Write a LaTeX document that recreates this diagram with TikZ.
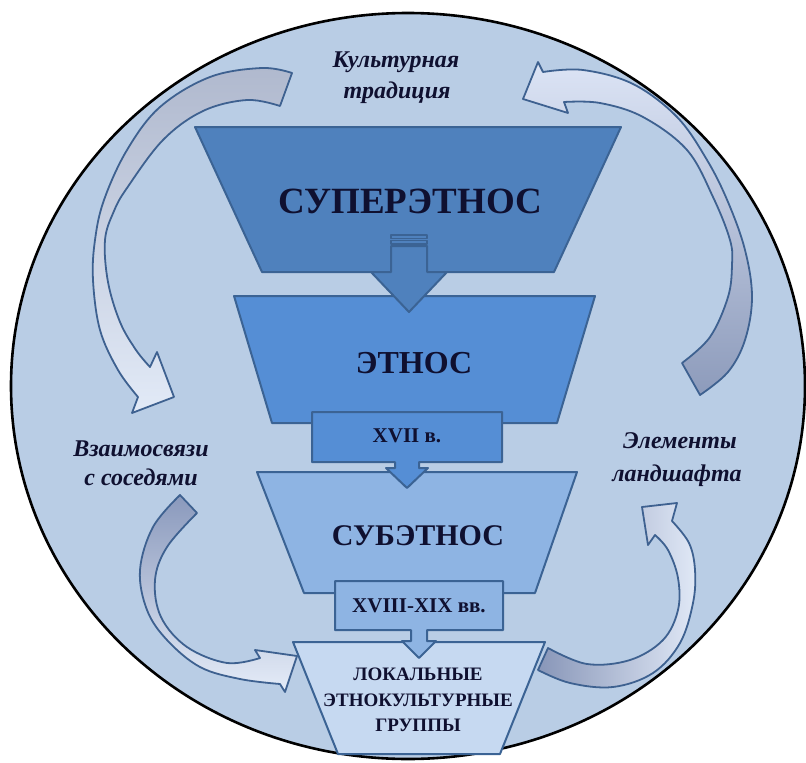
\documentclass[tikz,border=0pt]{standalone}
\usepackage{fontspec}
\setmainfont{Liberation Serif}
\definecolor{bgfill}{HTML}{B9CDE5}
\definecolor{shapeln}{HTML}{3B6394}
\definecolor{curvln}{HTML}{3E6190}
\definecolor{fillA}{HTML}{4F81BD}
\definecolor{fillB}{HTML}{558ED5}
\definecolor{fillC}{HTML}{8EB4E3}
\definecolor{fillD}{HTML}{C6D9F1}
\definecolor{txt}{HTML}{0F1030}
\definecolor{tlTail}{HTML}{B0B9CE}
\definecolor{tlHead}{HTML}{E2EAF7}
\definecolor{trTail}{HTML}{8D9BBB}
\definecolor{trHead}{HTML}{DCE4F5}
\definecolor{blTail}{HTML}{8A99BC}
\definecolor{blHead}{HTML}{E5ECF8}
\definecolor{brTail}{HTML}{8896B8}
\definecolor{brHead}{HTML}{E0E8F6}
\begin{document}
\begin{tikzpicture}[x=1pt,y=-1pt,
  shapebox/.style={draw=shapeln, line width=2pt, line join=round},
  curvarrow/.style={draw=curvln, line width=1.8pt, line join=round},
  captxt/.style={text=txt, inner sep=0pt, anchor=base},
  lbltxt/.style={text=txt, inner sep=0pt, anchor=base, font=\fontsize{24}{28}\selectfont\bfseries\itshape}]
\useasboundingbox (0,0) rectangle (806,763);
% background ellipse
\draw[fill=bgfill, draw=black, line width=2.6pt] (408,386) ellipse [x radius=397, y radius=373];

% curved arrows
\path[curvarrow, top color=tlTail, bottom color=tlHead]
  plot[smooth, tension=0.6] coordinates {(292,73) (262,68) (210,77) (160,107) (127,150) (104,200) (95,240) (93,280) (100,330) (118,370) (138,397)}
  -- (132,413) -- (174,397) -- (157,352) -- (150,367)
  -- plot[smooth, tension=0.6] coordinates {(150,367) (136,350) (120,322) (108,282) (105,240) (114,211) (127,188) (163,140) (203,111) (247,100) (280,106)}
  -- cycle;
\path[curvarrow, top color=trHead, bottom color=trTail]
  plot[smooth, tension=0.6] coordinates {(700,395) (728,372) (745,340) (752,297) (745,250) (728,202) (707,160) (677,117) (633,84) (583,70) (543,72)}
  -- (538,62) -- (523,99) -- (568,113) -- (564,102)
  -- plot[smooth, tension=0.6] coordinates {(564,102) (600,103) (643,117) (687,150) (713,197) (730,240) (732,265) (728,297) (710,337) (682,363)}
  -- cycle;
\path[curvarrow, top color=blTail, bottom color=blHead]
  plot[smooth, tension=0.6] coordinates {(180,495) (153,527) (140,570) (147,610) (167,640) (200,667) (240,679) (280,684)}
  -- (285,692) -- (297,656) -- (255,650) -- (260,658)
  -- plot[smooth, tension=0.6] coordinates {(260,658) (227,663) (187,647) (161,617) (155,580) (167,547) (197,513)}
  -- cycle;
\path[curvarrow, left color=brTail, right color=brHead]
  plot[smooth, tension=0.6] coordinates {(538,670) (570,683) (613,687) (653,673) (680,643) (693,603) (695,570) (689,543) (672,521)}
  -- (677,503) -- (642,507) -- (648,545) -- (655,535)
  -- plot[smooth, tension=0.6] coordinates {(655,535) (668,550) (678,578) (678,610) (663,640) (630,660) (587,664) (548,648)}
  -- cycle;

% trapezoids
\path[shapebox, fill=fillA] (195,127) -- (621,127) -- (554,272) -- (262,272) -- cycle;
\path[shapebox, fill=fillB] (234,296) -- (595,296) -- (557,423) -- (272,423) -- cycle;
% striped down arrow
\path[shapebox, fill=fillA, line width=1.6pt] (391,235) rectangle (427,238.5);
\path[shapebox, fill=fillA, line width=1.6pt] (391,240.5) rectangle (427,244);
\path[shapebox, fill=fillA] (391,246) -- (427,246) -- (427,272) -- (447,272) -- (409,312) -- (371,272) -- (391,272) -- cycle;
\path[shapebox, fill=fillC] (257,472) -- (577,472) -- (535,593) -- (304,593) -- cycle;
% XVII callout
\path[shapebox, fill=fillB] (312,412) -- (502,412) -- (502,462) -- (419,462) -- (419,468) -- (428,468) -- (407,488) -- (386,468) -- (395,468) -- (395,462) -- (312,462) -- cycle;
\path[shapebox, fill=fillD] (293,642) -- (545,642) -- (500,754) -- (338,754) -- cycle;
% XVIII-XIX callout
\path[shapebox, fill=fillC] (335,581) -- (503,581) -- (503,630) -- (427,630) -- (427,641) -- (436,641) -- (419,658) -- (402,641) -- (411,641) -- (411,630) -- (335,630) -- cycle;

% texts
\node[captxt, font=\fontsize{37}{40}\selectfont\bfseries] (super) at (410,213) {СУПЕРЭТНОС};
\node[captxt, font=\fontsize{32}{36}\selectfont\bfseries] (etnos) at (414,373) {ЭТНОС};
\node[captxt, font=\fontsize{21}{24}\selectfont\bfseries] (xvii) at (407,442) {XVII в.};
\node[captxt, font=\fontsize{30}{34}\selectfont\bfseries] (subetnos) at (418,545) {СУБЭТНОС};
\node[captxt, font=\fontsize{21}{24}\selectfont\bfseries] (xviii) at (419,612) {XVIII-XIX вв.};
\node[captxt, font=\fontsize{19}{22}\selectfont\bfseries] (lokA) at (418,680) {ЛОКАЛЬНЫЕ};
\node[captxt, font=\fontsize{19}{22}\selectfont\bfseries] (lokB) at (418,706) {ЭТНОКУЛЬТУРНЫЕ};
\node[captxt, font=\fontsize{19}{22}\selectfont\bfseries] (lokC) at (418,731) {ГРУППЫ};
\node[lbltxt] (kultA) at (396,67) {Культурная};
\node[lbltxt] (kultB) at (397,98) {традиция};
\node[lbltxt] (vzA) at (141,456) {Взаимосвязи};
\node[lbltxt] (vzB) at (141,485) {с соседями};
\node[lbltxt] (elA) at (680,448) {Элементы};
\node[lbltxt] (elB) at (677,481) {ландшафта};
\end{tikzpicture}
\end{document}
